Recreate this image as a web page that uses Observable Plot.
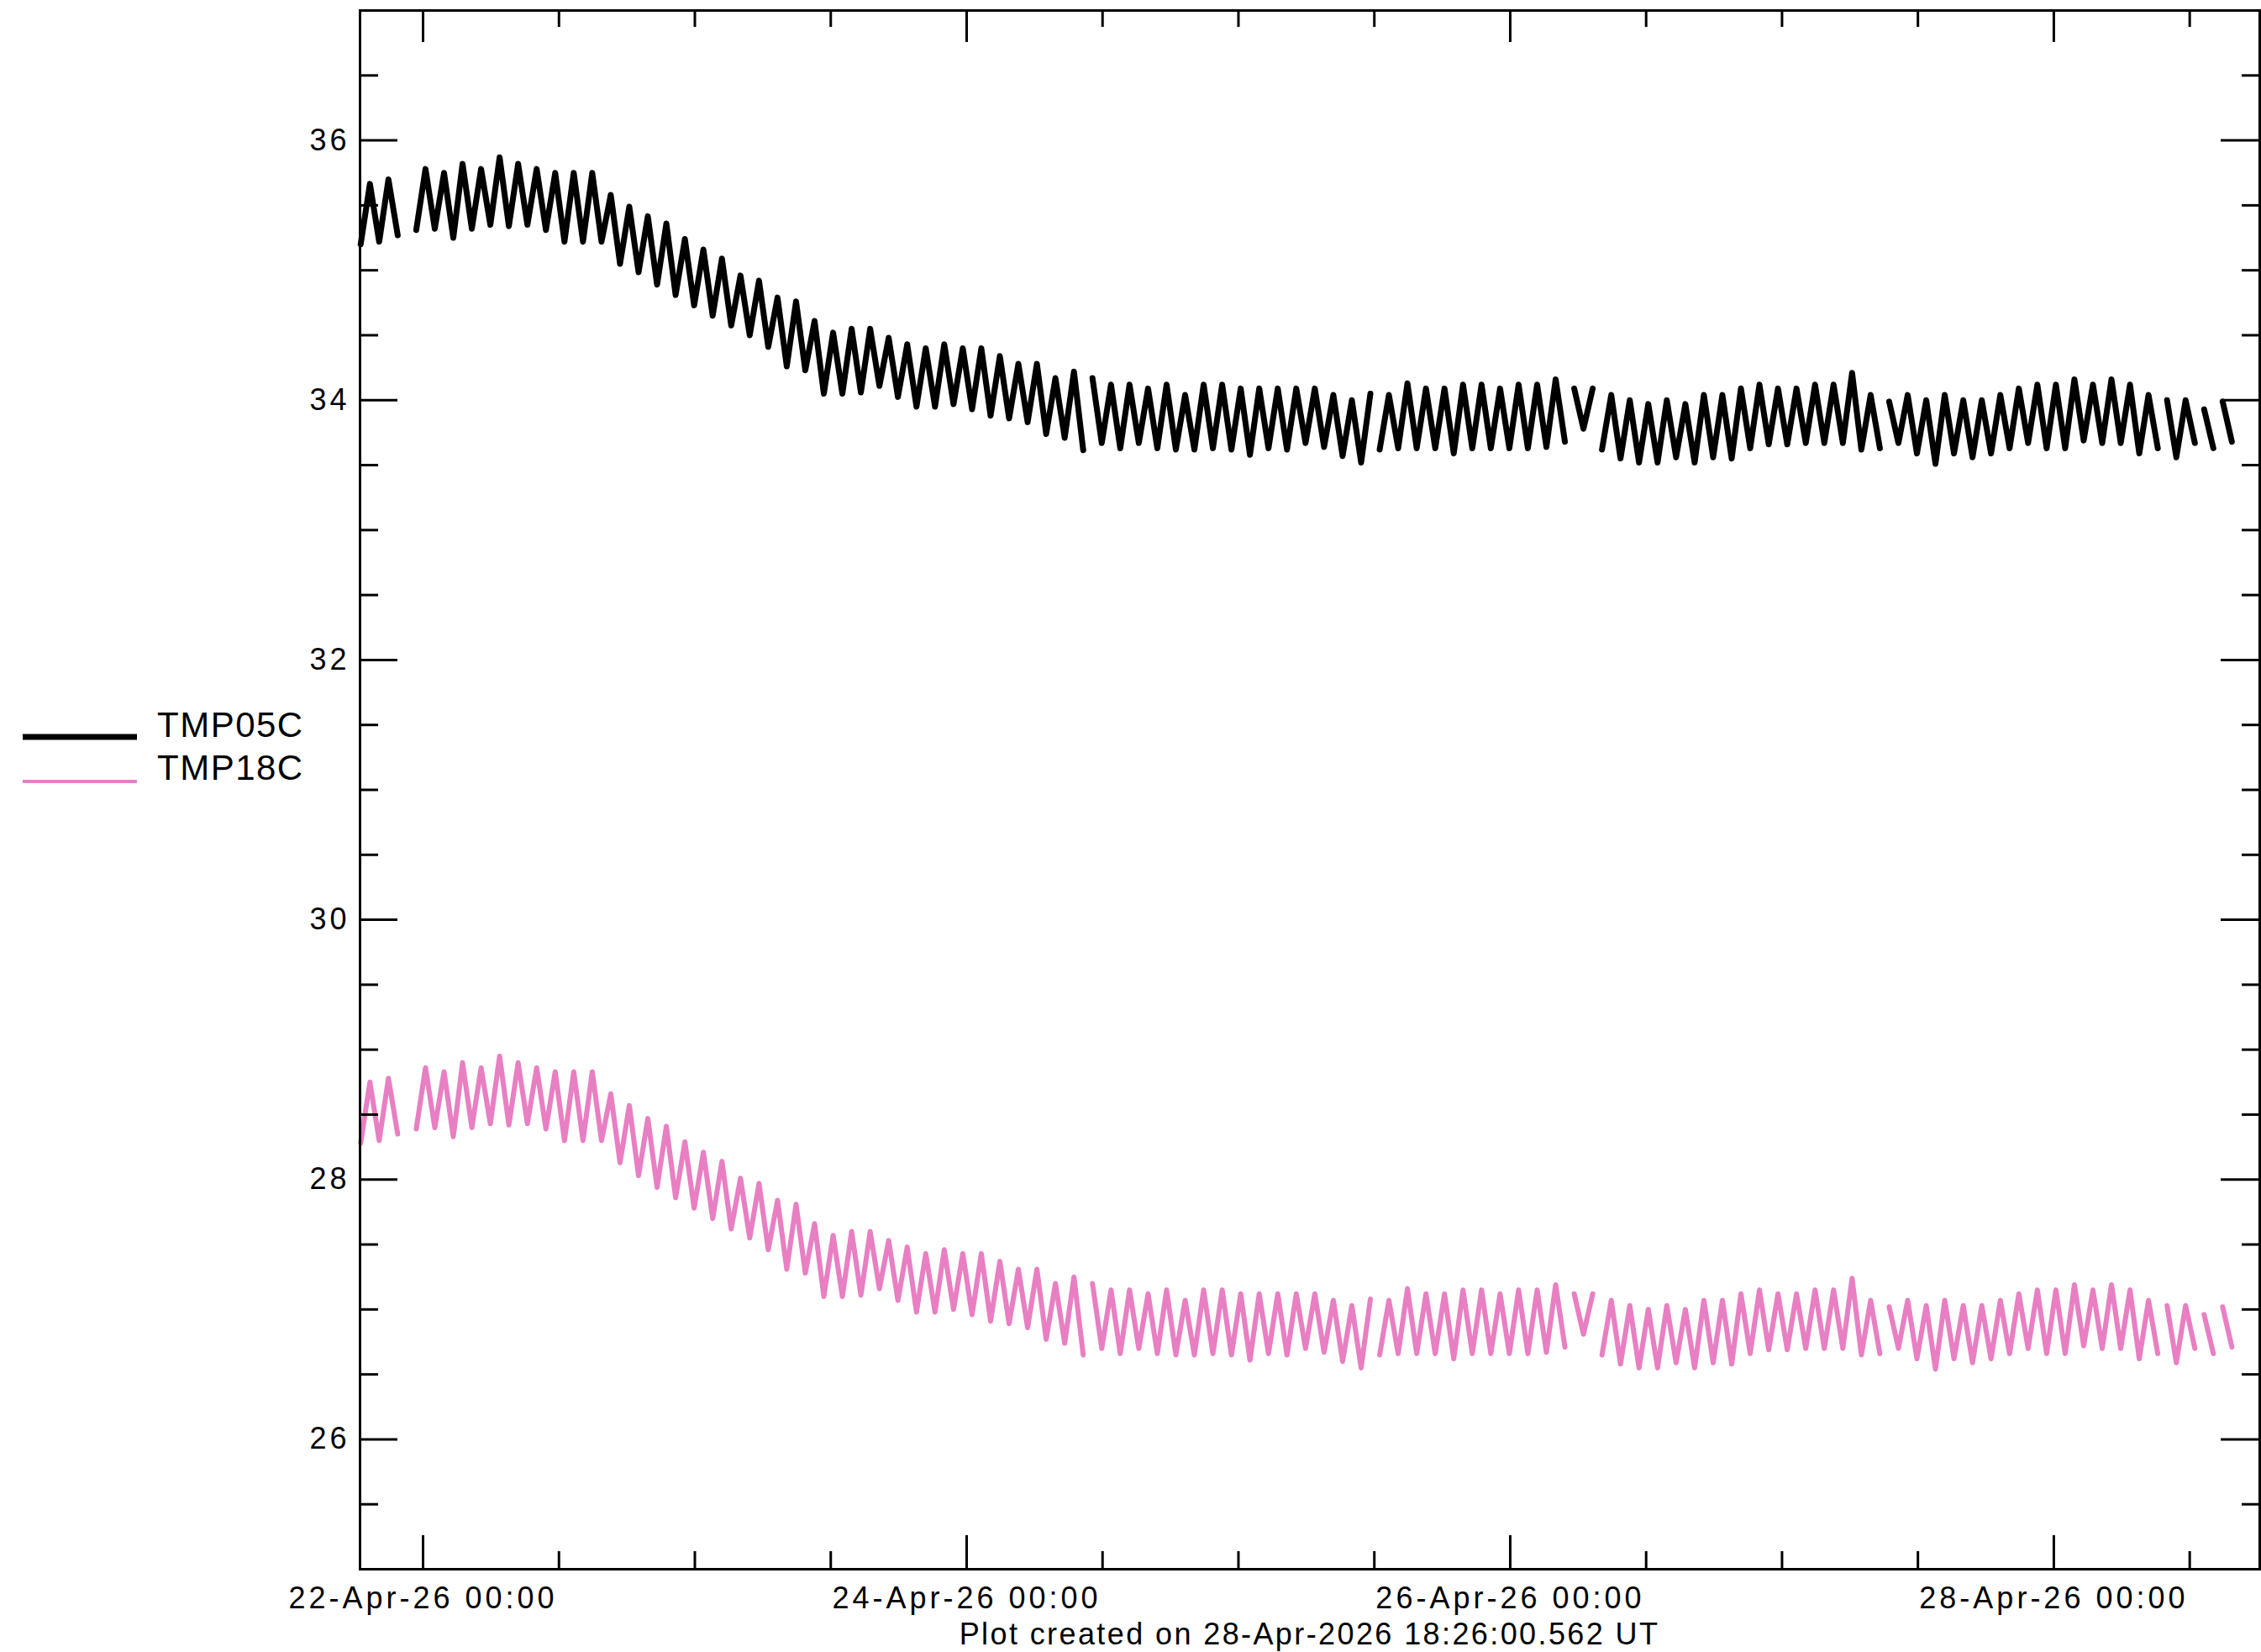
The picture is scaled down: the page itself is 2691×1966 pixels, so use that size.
<!DOCTYPE html>
<html><head><meta charset="utf-8">
<script src="https://cdn.jsdelivr.net/npm/d3@7"></script>
<script src="https://cdn.jsdelivr.net/npm/@observablehq/plot@0.6"></script>
<style>
html,body{margin:0;padding:0;background:#fff;}
#wrap{position:relative;width:2691px;height:1966px;overflow:hidden;font-family:"Liberation Sans",Arial,sans-serif;}
#chart svg text{letter-spacing:4px;}
#legend{position:absolute;left:0;top:820px;}
#caption{position:absolute;left:428px;width:2261px;top:1927px;text-align:center;font-size:36px;line-height:1;letter-spacing:2.4px;color:#000;white-space:nowrap;}
</style></head>
<body><div id="wrap"><div id="chart"></div><svg id="legend" width="420" height="140"></svg><div id="caption"></div></div>
<script>
// ---- data ----
const seriesNames = ["TMP05C", "TMP18C"];
const seriesColors = ["#000000", "#e87fc3"];
// alternating orbit extremes (trough, peak, ...), one value every half orbit
const sampleStart = "2026-04-21T18:29:20Z";
const sampleStepMinutes = 49.08;
const tmp05 = [
35.20,35.665,35.22,35.70,35.27,null,35.31,35.78,35.32,35.75,
35.25,35.82,35.32,35.78,35.35,35.87,35.34,35.82,35.35,35.78,
35.31,35.75,35.22,35.75,35.22,35.75,35.22,35.58,35.05,35.49,
34.985,35.416,34.89,35.36,34.81,35.24,34.73,35.16,34.65,35.09,
34.575,34.96,34.50,34.92,34.41,34.79,34.26,34.76,34.23,34.61,
34.05,34.52,34.05,34.55,34.06,34.55,34.11,34.48,34.025,34.43,
33.95,34.40,33.95,34.43,33.97,34.40,33.93,34.40,33.88,34.34,
33.86,34.28,33.83,34.28,33.74,34.17,33.71,34.22,33.615,34.17,
33.67,34.12,33.63,34.12,33.67,34.09,33.63,34.12,33.62,34.04,
33.62,34.12,33.63,34.12,33.62,34.09,33.58,34.09,33.63,34.09,
33.62,34.09,33.67,34.09,33.64,34.04,33.57,34.00,33.52,34.05,
33.62,34.04,33.63,34.13,33.63,34.09,33.63,34.09,33.59,34.12,
33.63,34.12,33.63,34.09,33.63,34.12,33.63,34.12,33.64,34.16,
33.68,34.09,33.78,34.09,33.62,34.04,33.55,34.00,33.52,33.97,
33.52,34.00,33.56,33.97,33.52,34.04,33.56,34.04,33.55,34.09,
33.63,34.12,33.66,34.09,33.66,34.09,33.67,34.12,33.67,34.12,
33.67,34.21,33.62,34.04,33.63,33.99,33.67,34.04,33.59,34.00,
33.51,34.04,33.59,34.00,33.56,34.00,33.59,34.04,33.63,34.09,
33.67,34.12,33.63,34.12,33.63,34.16,33.69,34.12,33.67,34.16,
33.67,34.12,33.59,34.04,33.63,34.00,33.56,34.00,33.67,33.93,
33.63,33.99,33.68
];
const breaks05 = [79, 110, 131, 134, 165, 195, 199, 201];
const tmp18 = [
28.28,28.75,28.30,28.78,28.35,null,28.39,28.86,28.40,28.83,
28.33,28.90,28.40,28.86,28.43,28.95,28.42,28.90,28.43,28.86,
28.39,28.83,28.30,28.83,28.30,28.83,28.30,28.66,28.13,28.57,
28.03,28.47,27.94,28.41,27.86,28.29,27.78,28.21,27.70,28.14,
27.62,28.01,27.55,27.97,27.46,27.84,27.31,27.81,27.28,27.66,
27.10,27.57,27.10,27.60,27.11,27.60,27.16,27.53,27.07,27.48,
26.98,27.43,26.98,27.46,27.00,27.43,26.96,27.43,26.91,27.37,
26.89,27.31,26.86,27.31,26.77,27.20,26.74,27.25,26.65,27.20,
26.70,27.15,26.66,27.15,26.70,27.12,26.66,27.15,26.65,27.07,
26.65,27.15,26.66,27.15,26.65,27.12,26.61,27.12,26.66,27.12,
26.65,27.12,26.70,27.12,26.67,27.07,26.60,27.03,26.55,27.08,
26.65,27.07,26.66,27.16,26.66,27.12,26.66,27.12,26.62,27.15,
26.66,27.15,26.66,27.12,26.66,27.15,26.66,27.15,26.67,27.19,
26.71,27.12,26.81,27.12,26.65,27.07,26.58,27.03,26.55,27.00,
26.55,27.03,26.59,27.00,26.55,27.07,26.59,27.07,26.58,27.12,
26.66,27.15,26.69,27.12,26.69,27.12,26.70,27.15,26.70,27.15,
26.70,27.24,26.65,27.07,26.66,27.02,26.70,27.07,26.62,27.03,
26.54,27.07,26.62,27.03,26.59,27.03,26.62,27.07,26.66,27.12,
26.70,27.15,26.66,27.15,26.66,27.19,26.72,27.15,26.70,27.19,
26.70,27.15,26.62,27.07,26.66,27.03,26.59,27.03,26.70,26.96,
26.66,27.02,26.71
];
const breaks18 = [79, 110, 131, 134, 165, 195, 199, 201];
const xDomain = ["2026-04-21T18:26:00Z", "2026-04-28T18:11:00Z"];
const yDomain = [25, 37];
const xMajorTicks = ["2026-04-22T00:00Z","2026-04-24T00:00Z","2026-04-26T00:00Z","2026-04-28T00:00Z"];
const xMinorTicks = ["2026-04-22T12:00Z","2026-04-23T00:00Z","2026-04-23T12:00Z","2026-04-24T12:00Z","2026-04-25T00:00Z","2026-04-25T12:00Z","2026-04-26T12:00Z","2026-04-27T00:00Z","2026-04-27T12:00Z","2026-04-28T12:00Z"];
const yMajorTicks = [26, 28, 30, 32, 34, 36];
const yMinorTicks = [25.5,26.5,27,27.5,28.5,29,29.5,30.5,31,31.5,32.5,33,33.5,34.5,35,35.5,36.5];
const captionText = "Plot created on 28-Apr-2026 18:26:00.562 UT";

// ---- build rows ----
function rows(values, breaks, name) {
  const t0 = new Date(sampleStart).getTime();
  let seg = 0;
  return values.map((v, i) => {
    if (breaks.includes(i)) seg++;
    return {t: new Date(t0 + i * sampleStepMinutes * 60000), v, series: name, seg: name + "-" + seg};
  });
}
const data05 = rows(tmp05, breaks05, seriesNames[0]);
const data18 = rows(tmp18, breaks18, seriesNames[1]);

const W = 2691, H = 1928, mL = 428, mR = 2, mT = 12, mB = 61;
const fw = W - mL - mR, fh = H - mT - mB;
const toDate = s => new Date(s);
const xMaj = xMajorTicks.map(toDate), xMin = xMinorTicks.map(toDate);
const tickStyle = {stroke: "#000", strokeWidth: 3};

const chart = Plot.plot({
  width: W, height: H,
  marginLeft: mL, marginRight: mR, marginTop: mT, marginBottom: mB,
  style: {fontFamily: '"Liberation Sans", Arial, sans-serif', background: "#fff", color: "#000"},
  x: {type: "utc", domain: xDomain.map(toDate)},
  y: {domain: yDomain},
  marks: [
    Plot.line(data18, {x: "t", y: "v", z: "seg", stroke: seriesColors[1], strokeWidth: 6}),
    Plot.line(data05, {x: "t", y: "v", z: "seg", stroke: seriesColors[0], strokeWidth: 7}),
    // bottom ticks
    Plot.ruleX(xMaj, {x: d => d, insetTop: fh - 40, ...tickStyle}),
    Plot.ruleX(xMin, {x: d => d, insetTop: fh - 21, ...tickStyle}),
    // top ticks
    Plot.ruleX(xMaj, {x: d => d, insetBottom: fh - 38, ...tickStyle}),
    Plot.ruleX(xMin, {x: d => d, insetBottom: fh - 20, ...tickStyle}),
    // left ticks
    Plot.ruleY(yMajorTicks, {y: d => d, insetRight: fw - 45, ...tickStyle}),
    Plot.ruleY(yMinorTicks, {y: d => d, insetRight: fw - 22, ...tickStyle}),
    // right ticks
    Plot.ruleY(yMajorTicks, {y: d => d, insetLeft: fw - 46, ...tickStyle}),
    Plot.ruleY(yMinorTicks, {y: d => d, insetLeft: fw - 21, ...tickStyle}),
    Plot.axisX(xMaj, {anchor: "bottom", tickSize: 0, tickPadding: 21, fontSize: 36, tickFormat: d3.utcFormat("%d-%b-%y %H:%M"), label: null}),
    Plot.axisY(yMajorTicks, {anchor: "left", tickSize: 0, tickPadding: 12, fontSize: 36, tickFormat: d => String(d), label: null}),
    Plot.frame({stroke: "#000", strokeWidth: 3})
  ]
});
document.getElementById("chart").appendChild(chart);

// legend
const lg = d3.select("#legend");
const items = [
  {name: seriesNames[0], color: seriesColors[0], w: 7, y: 57, ty: 57},
  {name: seriesNames[1], color: seriesColors[1], w: 4, y: 110, ty: 108}
];
items.forEach(it => {
  lg.append("line").attr("x1", 27).attr("x2", 163).attr("y1", it.y).attr("y2", it.y)
    .attr("stroke", it.color).attr("stroke-width", it.w);
  lg.append("text").attr("x", 187).attr("y", it.ty)
    .attr("font-size", 42).attr("letter-spacing", "1.5px")
    .attr("font-family", '"Liberation Sans", Arial, sans-serif').attr("fill", "#000")
    .text(it.name);
});
document.getElementById("caption").textContent = captionText;
</script>
</body></html>
